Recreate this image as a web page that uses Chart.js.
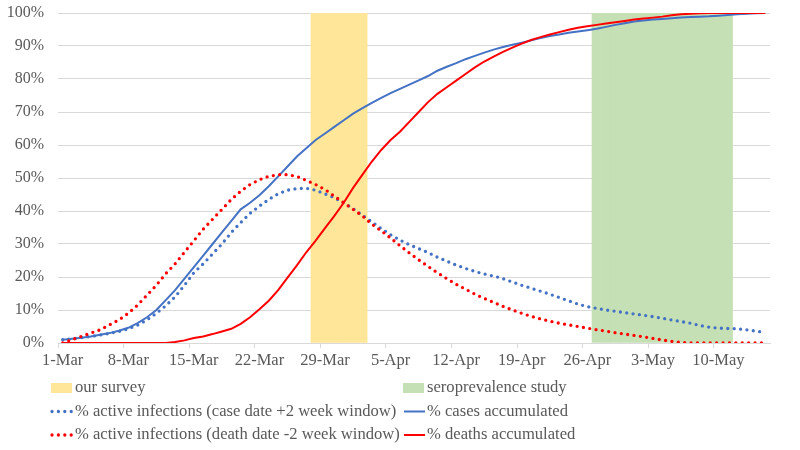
<!DOCTYPE html>
<html>
<head>
<meta charset="utf-8">
<script src="https://cdn.jsdelivr.net/npm/chart.js@4/dist/chart.umd.min.js"></script>
<style>
html,body{margin:0;padding:0;background:#fff;}
#wrap{width:800px;height:450px;position:relative;}
</style>
</head>
<body>
<div id="wrap"><canvas id="c" width="800" height="450"></canvas></div>
<script>
// ---- categories (daily, 1-Mar .. 15-May) ----
const monthDays = [['Mar', 31], ['Apr', 30], ['May', 15]];
const categories = [];
monthDays.forEach(([m, n]) => { for (let d = 1; d <= n; d++) categories.push(d + '-' + m); });

const tickLabels = ['1-Mar','8-Mar','15-Mar','22-Mar','29-Mar','5-Apr','12-Apr','19-Apr','26-Apr','3-May','10-May'];
const yTicks = [0,10,20,30,40,50,60,70,80,90,100];

// ---- series (percent) ----
const casesAccumulated = [
  1.0,1.3,1.6,2.0,2.5,3.0,3.7,4.6,6.0,7.8,
  10.0,13.0,16.0,19.5,23.0,26.5,30.0,33.5,37.0,40.5,
  42.5,44.8,47.5,50.5,53.5,56.5,59.0,61.5,63.5,65.5,
  67.5,69.5,71.2,72.8,74.3,75.7,77.0,78.3,79.6,80.9,
  82.5,83.7,84.8,86.0,87.0,88.0,88.9,89.7,90.4,91.0,
  91.7,92.4,93.0,93.5,94.0,94.4,94.8,95.2,95.8,96.4,
  96.9,97.4,97.7,98.0,98.2,98.4,98.6,98.8,98.9,99.0,
  99.2,99.4,99.6,99.8,99.9,100
];
const deathsAccumulated = [
  0,0,0,0,0,0,0,0,0,0,
  0,0,0.3,0.8,1.5,2.0,2.7,3.5,4.3,5.8,
  7.8,10.2,12.8,16.0,19.8,23.5,27.5,31.0,34.8,38.5,
  42.5,47.0,51.0,55.0,58.5,61.5,64.0,67.0,70.0,73.0,
  75.5,77.5,79.5,81.5,83.5,85.3,86.8,88.2,89.5,90.7,
  91.8,92.7,93.5,94.2,94.9,95.5,96.0,96.4,96.8,97.2,
  97.6,98.0,98.3,98.6,98.9,99.3,99.6,99.8,99.9,100,
  100,100,100,100,100,100
];
const activeCaseWindow = [
  1.0,1.3,1.6,2.0,2.4,2.9,3.5,4.3,5.4,7.0,
  9.0,11.3,14.0,17.5,21.3,24.0,27.0,30.0,33.5,36.5,
  39.3,41.5,43.5,45.2,46.3,46.8,46.9,46.3,45.2,44.0,
  42.5,40.7,38.7,36.7,34.7,32.8,31.2,29.8,28.6,27.4,
  26.0,24.8,23.6,22.6,21.7,20.9,20.3,19.5,18.5,17.5,
  16.6,15.7,14.8,13.8,12.8,11.8,11.0,10.5,10.0,9.6,
  9.2,8.8,8.4,8.0,7.5,7.0,6.5,6.0,5.3,4.8,
  4.5,4.4,4.3,4.0,3.6,3.2
];
const activeDeathWindow = [
  0,1.0,2.0,3.0,4.0,5.5,7.0,9.0,11.5,14.5,
  17.5,21.0,24.0,27.5,31.0,34.5,37.5,40.5,43.5,46.0,
  48.0,49.5,50.5,51.0,51.0,50.5,49.3,48.0,46.5,44.5,
  42.5,40.5,38.5,36.0,34.0,31.8,29.5,27.3,25.2,23.2,
  21.3,19.5,17.8,16.3,14.8,13.5,12.3,11.1,10.0,9.0,
  8.1,7.3,6.6,6.0,5.5,5.0,4.5,4.0,3.6,3.1,
  2.7,2.3,1.9,1.4,0.9,0.5,0.2,0,0,0,
  0,0,0,0,0,0
];
// shaded periods (first day, last day)
const surveyPeriod = ['28-Mar', '2-Apr'];
const seroPeriod = ['27-Apr', '11-May'];

function band(period) {
  const a = categories.indexOf(period[0]), b = categories.indexOf(period[1]);
  return categories.map((_, i) => (i >= a && i <= b) ? 100 : null);
}

const FONT = '"Liberation Serif", "Times New Roman", serif';
const TXT = '#595959';

const gridLegend = {
  id: 'gridLegend',
  afterDraw(chart) {
    const ctx = chart.ctx;
    const cols = [50, 402], rows = [388, 411.5, 435];
    chart.data.datasets.forEach((ds, i) => {
      const x = cols[i % 2], y = rows[Math.floor(i / 2)];
      ctx.save();
      if (ds.type === 'bar') {
        ctx.fillStyle = ds.backgroundColor;
        ctx.fillRect(x + 1, y - 5, 21, 10);
      } else {
        ctx.strokeStyle = ds.borderColor;
        ctx.lineWidth = ds.borderWidth;
        ctx.lineCap = ds.borderCapStyle || 'butt';
        ctx.setLineDash(ds.borderDash || []);
        ctx.beginPath();
        ctx.moveTo(x + 2, y);
        ctx.lineTo(x + 23, y);
        ctx.stroke();
      }
      ctx.setLineDash([]);
      ctx.font = '16.6px ' + FONT;
      ctx.fillStyle = TXT;
      ctx.textBaseline = 'middle';
      ctx.textAlign = 'left';
      ctx.fillText(ds.label, x + 25, y);
      ctx.restore();
    });
  }
};

const dotted = { borderWidth: 3.3, borderDash: [0, 6.4], borderCapStyle: 'round' };

new Chart(document.getElementById('c'), {
  data: {
    labels: categories,
    datasets: [
      { type: 'bar', label: 'our survey', data: band(surveyPeriod), backgroundColor: '#FFE699',
        borderWidth: 0, categoryPercentage: 1, barPercentage: 1, grouped: false, order: 10 },
      { type: 'bar', label: 'seroprevalence study', data: band(seroPeriod), backgroundColor: '#C5E0B4',
        borderWidth: 0, categoryPercentage: 1, barPercentage: 1, grouped: false, order: 10 },
      Object.assign({ type: 'line', label: '% active infections (case date +2 week window)', data: activeCaseWindow,
        borderColor: '#4472C4', pointRadius: 0, tension: 0, order: 3 }, dotted),
      { type: 'line', label: '% cases accumulated', data: casesAccumulated,
        borderColor: '#4472C4', borderWidth: 2, pointRadius: 0, tension: 0, order: 2 },
      Object.assign({ type: 'line', label: '% active infections (death date -2 week window)', data: activeDeathWindow,
        borderColor: '#FF0000', pointRadius: 0, tension: 0, order: 1 }, dotted),
      { type: 'line', label: '% deaths accumulated', data: deathsAccumulated,
        borderColor: '#FF0000', borderWidth: 2, pointRadius: 0, tension: 0, order: 0 }
    ]
  },
  options: {
    responsive: false,
    animation: false,
    devicePixelRatio: 1,
    layout: { padding: { top: 13, right: 30, bottom: 70, left: 0 } },
    plugins: { legend: { display: false }, tooltip: { enabled: false } },
    scales: {
      x: {
        type: 'category',
        offset: true,
        grid: {
          offset: true,
          drawOnChartArea: false,
          drawTicks: true,
          tickLength: 5,
          color: (c) => (c.index % 7 === 0 ? '#D9D9D9' : 'rgba(0,0,0,0)')
        },
        border: { display: true, color: '#D9D9D9', width: 1 },
        ticks: {
          autoSkip: false, maxRotation: 0, minRotation: 0, padding: 3,
          color: TXT, font: { family: FONT, size: 16.5 },
          callback: function (v, i) { const l = categories[i]; return tickLabels.includes(l) ? l : ''; }
        },
        afterFit: (s) => { s.height = 37; }
      },
      y: {
        min: 0, max: 100,
        afterBuildTicks: (s) => { s.ticks = yTicks.map(v => ({ value: v })); },
        grid: { color: '#D9D9D9', drawTicks: false, lineWidth: 1 },
        border: { display: false },
        ticks: { padding: 14, color: TXT, font: { family: FONT, size: 16 }, callback: (v) => v + '%' },
        afterFit: (s) => { s.width = 58; s.paddingTop = 8; s.paddingBottom = 8; }
      }
    }
  },
  plugins: [gridLegend]
});
</script>
</body>
</html>
